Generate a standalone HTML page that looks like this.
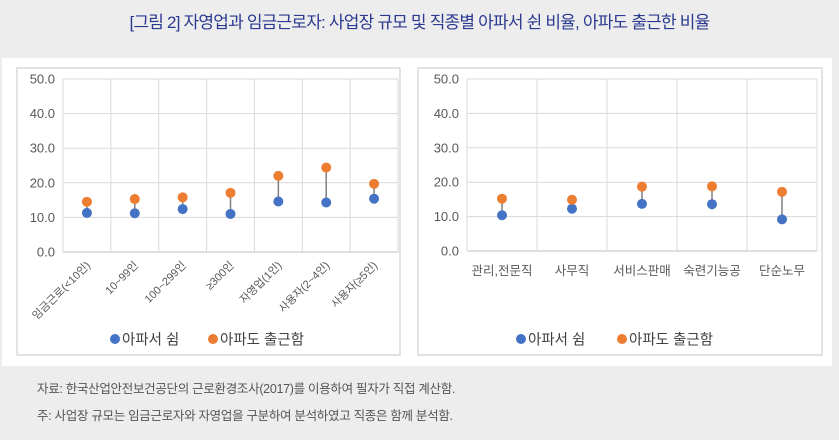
<!DOCTYPE html>
<html><head><meta charset="utf-8"><style>
body{margin:0;width:839px;height:440px;background:#ededed;font-family:"Liberation Sans","Noto Sans CJK KR",sans-serif;overflow:hidden;position:relative}
#title{position:absolute;left:0;top:8px;width:839px;text-align:center;font-size:17px;color:#2b3990;letter-spacing:-0.8px}
#band{position:absolute;left:2px;top:58px;width:830px;height:308px;background:#fff}
.foot{position:absolute;left:37px;font-size:12.5px;color:#555;letter-spacing:-0.3px}
svg{position:absolute;left:0;top:0}
</style></head><body>
<div id="title">[그림 2] 자영업과 임금근로자: 사업장 규모 및 직종별 아파서 쉰 비율, 아파도 출근한 비율</div>
<div id="band"></div>
<svg id="svg" width="839" height="440"></svg>
<div class="foot" style="top:378px">자료: 한국산업안전보건공단의 근로환경조사(2017)를 이용하여 필자가 직접 계산함.</div>
<div class="foot" style="top:405px">주: 사업장 규모는 임금근로자와 자영업을 구분하여 분석하였고 직종은 함께 분석함.</div>
<script>
const leftCats=["임금근로(<10인)","10~99인","100~299인","≥300인","자영업(1인)","사용자(2~4인)","사용자(≥5인)"];
const leftSick=[11.3,11.2,12.4,11.0,14.6,14.3,15.4];
const leftWork=[14.5,15.3,15.8,17.1,22.0,24.4,19.7];
const rightCats=["관리,전문직","사무직","서비스판매","숙련기능공","단순노무"];
const rightSick=[10.4,12.3,13.7,13.6,9.2];
const rightWork=[15.2,14.9,18.7,18.8,17.2];
const yTicks=[0,10,20,30,40,50];
const yLabels=["0.0","10.0","20.0","30.0","40.0","50.0"];
const legendLabels=["아파서 쉼","아파도 출근함"];
const NS="http://www.w3.org/2000/svg";
const svg=document.getElementById('svg');
function mk(t,a,p){const e=document.createElementNS(NS,t);for(const k in a)e.setAttribute(k,a[k]);(p||svg).appendChild(e);return e;}
function chart(o){
  const g=mk('g',{});
  
  
  const pr=mk('rect',{x:o.px,y:68,width:o.pw,height:287,fill:'#fff',stroke:'#d9d9d9','stroke-width':1.5},g);
  
  
  const y=v=>o.y0-(v/50)*(o.y0-o.y50);
  const n=o.cats.length, bw=(o.x1-o.x0)/n;
  const x=i=>o.x0+bw*(i+0.5);
  yTicks.forEach((t,i)=>{
    const l=mk('line',{x1:o.x0,x2:o.x1,y1:y(t),y2:y(t),stroke:t===0?'#bfbfbf':'#d9d9d9','stroke-width':1},g);
    
    
    const tx=mk('text',{x:o.x0-8,y:y(t)+4.5,'text-anchor':'end','font-size':13,fill:'#595959'},g);
    tx.textContent=yLabels[i];
    
    
  });
  for(let i=0;i<=n;i++){const l=mk('line',{x1:o.x0+bw*i,x2:o.x0+bw*i,y1:o.y50,y2:o.y0,stroke:'#d9d9d9'},g);
    
    }
  o.cats.forEach((c,i)=>{
    const l=mk('line',{x1:x(i),x2:x(i),y1:y(o.sick[i]),y2:y(o.work[i]),stroke:'#7f7f7f','stroke-width':1.5},g);
    
    
    const a=mk('circle',{cx:x(i),cy:y(o.sick[i]),r:5,fill:'#4472c4'},g);
    
    
    const b=mk('circle',{cx:x(i),cy:y(o.work[i]),r:5,fill:'#ed7d31'},g);
    
    
    let t;
    if(o.rot){t=mk('text',{x:x(i)+4,y:o.y0+14,'text-anchor':'end','font-size':11,fill:'#595959',transform:`rotate(-45 ${x(i)+4} ${o.y0+14})`},g);}
    else{t=mk('text',{x:x(i),y:o.y0+24,'text-anchor':'middle','font-size':12.5,fill:'#595959'},g);}
    t.textContent=c;
    
    
  });
  [[o.lg[0],'#4472c4',legendLabels[0]],[o.lg[1],'#ed7d31',legendLabels[1]]].forEach(([lx,col,lab])=>{
    const c=mk('circle',{cx:lx,cy:339,r:5,fill:col},g);
    
    
    const t=mk('text',{x:lx+7,y:344.5,'font-size':14.5,fill:'#404040'},g);
    t.textContent=lab;
    
    
  });
}
chart({name:'left-chart',px:17,pw:383,x0:63,x1:398,y0:252,y50:79,cats:leftCats,sick:leftSick,work:leftWork,rot:true,lg:[115,213]});
chart({name:'right-chart',px:418,pw:404,x0:467,x1:817,y0:251,y50:79,cats:rightCats,sick:rightSick,work:rightWork,rot:false,lg:[521,622]});
</script>
</body></html>
